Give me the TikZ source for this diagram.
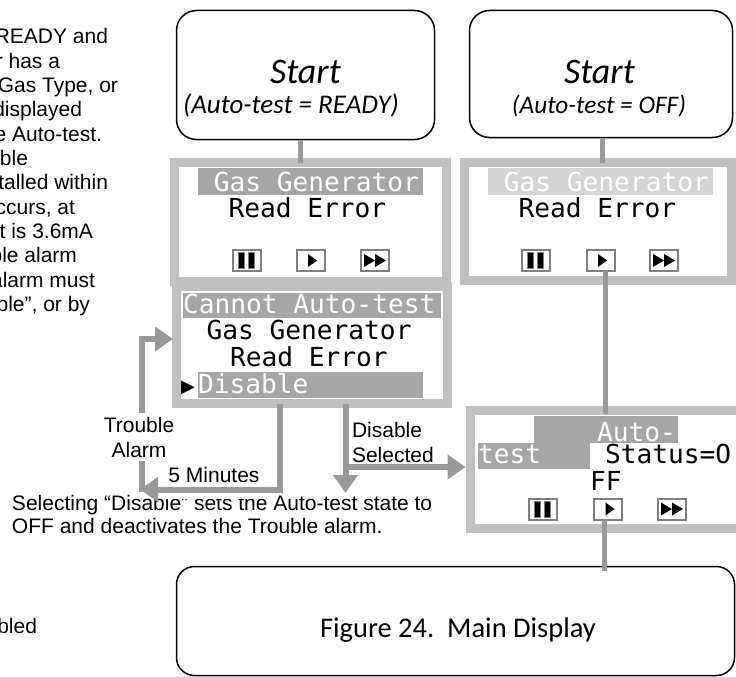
\documentclass[tikz,border=0pt]{standalone}
\usepackage{fontspec}
\setmainfont{Liberation Sans}
\newfontfamily\calfont{Carlito}
\newfontfamily\lcdfont{DejaVu Sans Mono}
\newfontfamily\symfont{DejaVu Sans}
\usetikzlibrary{arrows.meta,calc}
\definecolor{bordergray}{HTML}{C0C0C0}
\definecolor{bargray}{HTML}{999999}
\definecolor{hidark}{HTML}{A6A6A6}
\definecolor{hilight}{HTML}{D4D4D4}
\definecolor{btngray}{HTML}{808080}
\begin{document}
\begin{tikzpicture}[x=1pt,y=-1pt,
  every node/.style={inner sep=0pt, outer sep=0pt},
  startbox/.style={draw=black, line width=1.5pt, rounded corners=20pt, fill=white},
  lcdbox/.style={draw=bordergray, line width=9pt},
  btn/.style={draw=btngray, line width=2pt, fill=white, minimum width=28pt, minimum height=21pt},
  pausebtn/.style={btn, path picture={
     \filldraw[fill=black, draw=btngray, line width=1pt]
       ([xshift=-8.5pt,yshift=-8pt]path picture bounding box.center) rectangle
       ([xshift=-2.5pt,yshift=8pt]path picture bounding box.center);
     \filldraw[fill=black, draw=btngray, line width=1pt]
       ([xshift=1pt,yshift=-8pt]path picture bounding box.center) rectangle
       ([xshift=7pt,yshift=8pt]path picture bounding box.center);}},
  playbtn/.style={btn, path picture={
     \fill[black] ([xshift=-2.5pt,yshift=-6.5pt]path picture bounding box.center) --
       ([xshift=-2.5pt,yshift=6.5pt]path picture bounding box.center) --
       ([xshift=6.5pt]path picture bounding box.center) -- cycle;}},
  ffbtn/.style={btn, path picture={
     \fill[black] ([xshift=-11pt,yshift=-6.5pt]path picture bounding box.center) --
       ([xshift=-11pt,yshift=6.5pt]path picture bounding box.center) --
       ([xshift=0pt]path picture bounding box.center) -- cycle;
     \fill[black] ([xshift=0pt,yshift=-6.5pt]path picture bounding box.center) --
       ([xshift=0pt,yshift=6.5pt]path picture bounding box.center) --
       ([xshift=11pt]path picture bounding box.center) -- cycle;}},
  bar/.style={draw=bargray, line width=5pt},
  arr/.style={draw=bargray, line width=6pt, -{Triangle[length=18pt,width=24pt]}},
  body/.style={font=\fontsize{21}{25}\selectfont},
  starttitle/.style={font=\calfont\itshape\fontsize{36}{40}\selectfont, anchor=base},
  startsub/.style={font=\calfont\itshape\fontsize{26}{30}\selectfont, anchor=base},
  lcdblack/.style={font=\lcdfont\fontsize{26.2}{30}\selectfont, anchor=base west},
  lcdwhite/.style={lcdblack, text=white},
]
\useasboundingbox (0,0) rectangle (736,677);
\clip (0,0) rectangle (736,677);
\fill[white] (0,0) rectangle (736,677);

% left description text (cut off at left edge)
\foreach \t/\xe [count=\i from 0] in {READY and/108, r has a/60, {Gas Type, or}/118, displayed/82,
   e Auto-test./102, ble/28, talled within/108, {ccurs, at}/75, t is 3.6mA/93, ble alarm/77,
   alarm must/95, {ble”, or by}/90}
  \node[body, anchor=base east] (l\i) at (\xe, 44+24.3*\i) {\t};
\node[body, anchor=base east] (lb) at (37,633) {bled};

% start boxes
\node[startbox, minimum width=258pt, minimum height=129pt] (s1) at (305.5,75) {};
\node[starttitle] (s1t) at (305.5,83) {Start};
\node[startsub, font=\calfont\itshape\fontsize{27}{30}\selectfont] (s1s) at (291,113) {(Auto-test = READY)};
\node[startbox, minimum width=263pt, minimum height=127pt] (s2) at (601,74) {};
\node[starttitle] (s2t) at (599.5,83) {Start};
\node[startsub, font=\calfont\itshape\fontsize{25.3}{30}\selectfont] (s2s) at (599,113) {(Auto-test = OFF)};

% main display box
\node[startbox, rounded corners=18pt, minimum width=558pt, minimum height=109pt] (main) at (455.5,621) {};
\node[font=\calfont\fontsize{28.5}{32}\selectfont, anchor=base] (maint) at (458,637) {Figure 24.~~Main Display};

% LCD boxes
\node[lcdbox, minimum width=272pt, minimum height=119pt] (d1) at (310.5,222) {};
\node[lcdbox, minimum width=271pt, minimum height=117pt] (cant) at (312,345) {};
\node[lcdbox, minimum width=267pt, minimum height=118pt] (d2) at (598,221.5) {};
\node[lcdbox, minimum width=275pt, minimum height=118pt] (d3) at (608,469.5) {};

% D1 contents
\fill[hidark] (198,168) rectangle (423,195);
\node[lcdwhite] (d1a) at (213.8,191) {Gas Generator};
\node[lcdblack] (d1b) at (228.5,217) {Read Error};
\node[pausebtn] (pause1) at (247,260.5) {};
\node[playbtn] (play1) at (310.5,260.5) {};
\node[ffbtn] (ff1) at (375,260.5) {};

% D2 contents
\fill[hilight] (488,168) rectangle (713,195);
\node[lcdwhite] (d2a) at (503.8,191) {Gas Generator};
\node[lcdblack] (d2b) at (518.5,217) {Read Error};
\node[pausebtn] (pause2) at (536,260.5) {};
\node[playbtn] (play2) at (600.5,260.5) {};
\node[ffbtn] (ff2) at (664,260.5) {};

% Cannot Auto-test box contents
\fill[hidark] (183,293) rectangle (441,318);
\node[lcdwhite] (ca) at (183,313) {Cannot Auto-test};
\node[lcdblack] (cb) at (206.5,339) {Gas Generator};
\node[lcdblack] (cc) at (230,366) {Read Error};
\node[font=\symfont\fontsize{18}{20}\selectfont, anchor=base west] (cd) at (181,392) {▶};
\fill[hidark] (198,372) rectangle (423,398);
\node[lcdwhite] (ce) at (198,393) {Disable};

% D3 contents
\fill[hidark] (534,416) rectangle (678,443);
\fill[hidark] (478,443) rectangle (590,469);
\node[lcdwhite] (d3a) at (597,441) {Auto-};
\node[lcdwhite] (d3b) at (478,463) {test};
\node[lcdblack] (d3c) at (605,463) {Status=O};
\node[lcdblack] (d3d) at (590,490) {FF};
\node[pausebtn] (pause3) at (543,509) {};
\node[playbtn] (play3) at (608,509) {};
\node[ffbtn] (ff3) at (672,509) {};

% vertical connectors
\draw[bar] ([xshift=-5pt]s1.south) -- ([xshift=-5pt]s1.south |- d1.north);
\draw[bar] ([xshift=1.5pt]s2.south) -- ([xshift=1.5pt]s2.south |- d2.north);
\draw[bar] ([xshift=4.5pt]play2.south) -- ([xshift=4.5pt,yshift=-3pt]play2.south |- d3.north);
\draw[bar] ([xshift=-3.5pt]play3.south) -- ([xshift=-3.5pt,yshift=-4pt]play3.south |- main.north);

% bottom note
\node[body, anchor=base west] (note1) at (12,510) {Selecting “Disable” sets the Auto-test state to};
\node[body, anchor=base west] (note2) at (12,533) {OFF and deactivates the Trouble alarm.};

% 5 minutes label (white box)
\node[body, fill=white, minimum width=102pt, minimum height=37pt, text height=15pt, text depth=12pt] (five) at (214,480.5) {5 Minutes};

% arrows
\coordinate (m1) at (280,489.5);
\coordinate (tipL) at (140,489.5);
\coordinate (tb) at (142,492);
\coordinate (tr) at (173,339);
\coordinate (dx) at (345.5,493);
\coordinate (br) at (345.5,467);
\draw[arr] (m1 |- cant.south) -- (m1) -- (tipL);
\draw[arr] (tb) -- (tb |- tr) -- (tr);
\draw[arr] (dx |- cant.south) -- (dx);
\draw[arr, shorten >=5pt] (br) -- (br -| d3.west);

% labels
\node[body, fill=white, align=center, inner ysep=4pt, anchor=north] (trouble) at (139,413) {Trouble\\Alarm};
\node[body, align=left, anchor=north west] (dsel) at (352,422) {Disable\\Selected};
\end{tikzpicture}
\end{document}
